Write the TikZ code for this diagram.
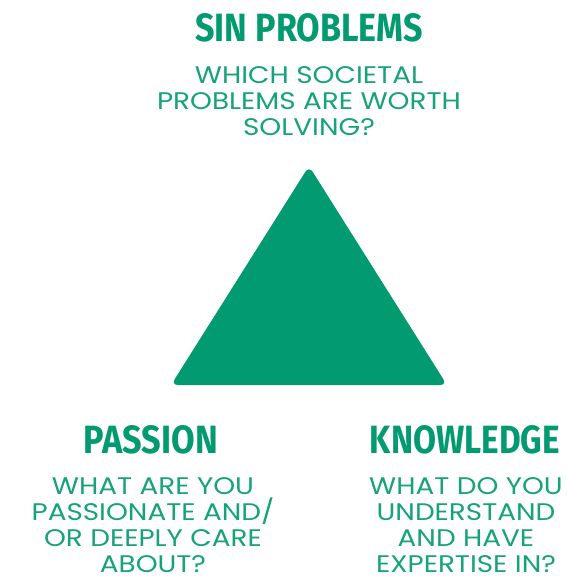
\documentclass[tikz,border=0pt]{standalone}
\usepackage{fontspec}
\usepackage{graphicx}
\setmainfont{Poppins}[FakeStretch=1.16]
\newfontfamily\titlefont{Fira Sans}
\definecolor{sgreen}{RGB}{2,154,112}
\definecolor{tgreen}{RGB}{22,162,122}
\begin{document}
\begin{tikzpicture}[x=1pt,y=-1pt,
  title/.style={text=sgreen,inner sep=0pt,anchor=north},
  body/.style={text=tgreen,inner sep=0pt,anchor=north,align=center,font=\fontsize{24}{26}\selectfont}]
\useasboundingbox (0,0) rectangle (567,578);
\fill[sgreen,rounded corners=7pt] (309,166) -- (447,385) -- (171,385) -- cycle;
\node[title] (t1) at (309,13) {\resizebox{227pt}{28pt}{\titlefont\bfseries SIN PROBLEMS}};
\node[body] (b1) at (309,66) {WHICH SOCIETAL\\PROBLEMS ARE WORTH\\SOLVING?};
\node[title] (t2) at (151,425) {\resizebox{134pt}{28pt}{\titlefont\bfseries PASSION}};
\node[body] (b2) at (153,477) {WHAT ARE YOU\\PASSIONATE AND/\\OR DEEPLY CARE\\ABOUT?};
\node[title] (t3) at (465,425) {\resizebox{190pt}{28pt}{\titlefont\bfseries KNOWLEDGE}};
\node[body] (b3) at (466,477) {WHAT DO YOU\\UNDERSTAND\\AND HAVE\\EXPERTISE IN?};
\end{tikzpicture}
\end{document}
